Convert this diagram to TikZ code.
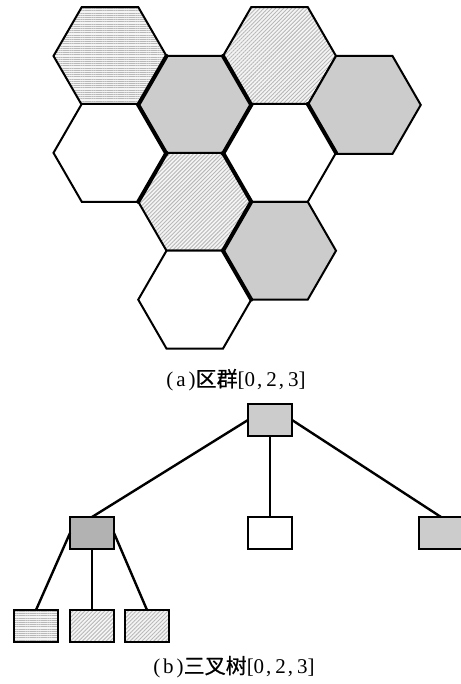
\documentclass[tikz,border=0pt]{standalone}
\usepackage{fontspec}
\setmainfont{Liberation Serif}
\newfontfamily\cjk[FakeBold=0.6]{Noto Sans CJK SC}
\usetikzlibrary{calc}
\usetikzlibrary{patterns.meta}

\tikzset{
  linesfill/.style={preaction={fill=black!4},
    pattern={Lines[angle=0,distance=1.1pt,line width=0.4pt]}, pattern color=black!28},
  hatchfill/.style={preaction={fill=black!4},
    pattern={Lines[angle=45,distance=1.4pt,line width=0.45pt]}, pattern color=black!28},
  hexedge/.style={draw, line width=1pt, line join=miter},
  hexwhite/.style={hexedge, fill=white},
  hexgray/.style={hexedge, fill=black!20},
  hexlines/.style={hexedge, linesfill},
  hexhatch/.style={hexedge, hatchfill},
  boldedge/.style={line width=2pt, line cap=round},
  box/.style={draw, line width=1.2pt, minimum width=22pt, minimum height=16pt, inner sep=0pt, outer sep=0pt},
  link/.style={line width=1.2pt},
  caption/.style={font=\fontsize{10.5pt}{12pt}\selectfont},
}

\begin{document}
\begin{tikzpicture}[x=0.5pt,y=-0.5pt]
        \useasboundingbox (0,0) rectangle (460,684);
        % cluster cells
        \foreach \n/\x/\y in {h1/110/56, h2/194.75/104.93, h3/279.5/56, h4/364.25/104.93,
                h5/110/152.86, h6/279.5/152.86, h7/194.75/201.79, h8/279.5/250.72, h9/194.75/299.65}
        {
                \coordinate (\n) at (\x,\y);
                \foreach \a in {0,60,...,300}
                        \coordinate (\n-\a) at ($(\n)+(\a:56.5)$);
        }
        \foreach \n/\s in {h1/hexlines, h2/hexgray, h3/hexhatch, h4/hexgray, h5/hexwhite,
                h6/hexwhite, h7/hexhatch, h8/hexgray, h9/hexwhite}
                \draw[\s] (\n-0) -- (\n-60) -- (\n-120) -- (\n-180) -- (\n-240) -- (\n-300) -- cycle;
        \draw[boldedge] (h2-240) -- (h2-180) -- (h2-120);
        \draw[boldedge] (h2-300) -- (h2-0) -- (h2-60);
        \draw[boldedge] (h7-180) -- (h7-240);
        \draw[boldedge] (h7-300) -- (h7-0) -- (h7-60);
        \draw[boldedge] (h6-300) -- (h6-0);
        \draw[boldedge] (h8-180) -- (h8-120);
        \node[caption](capA) at (236,380) {(\hspace{1.5pt}a\hspace{1.5pt}){\cjk 区群}[0\hspace{1pt},\hspace{2pt}2\hspace{1pt},\hspace{2pt}3]};

        % ternary tree
        \node[box, fill=black!20](root) at (270,420) {};
        \node[box, fill=black!30](left) at (92,533) {};
        \node[box, fill=white](mid) at (270,533) {};
        \node[box, fill=black!20](right) at (441,533) {};
        \node[box, linesfill](leafa) at (36,626) {};
        \node[box, hatchfill](leafb) at (92,626) {};
        \node[box, hatchfill](leafc) at (147,626) {};
        \draw[link](root.west)--(left.north);
        \draw[link](root.south)--(mid.north);
        \draw[link](root.east)--(right.north);
        \draw[link](left.west)--(leafa.north);
        \draw[link](left.south)--(leafb.north);
        \draw[link](left.east)--(leafc.north);
        \node[caption](capB) at (234,667) {(\hspace{1.5pt}b\hspace{1.5pt}){\cjk 三叉树}[0\hspace{1pt},\hspace{2pt}2\hspace{1pt},\hspace{2pt}3]};
\end{tikzpicture}
\end{document}
